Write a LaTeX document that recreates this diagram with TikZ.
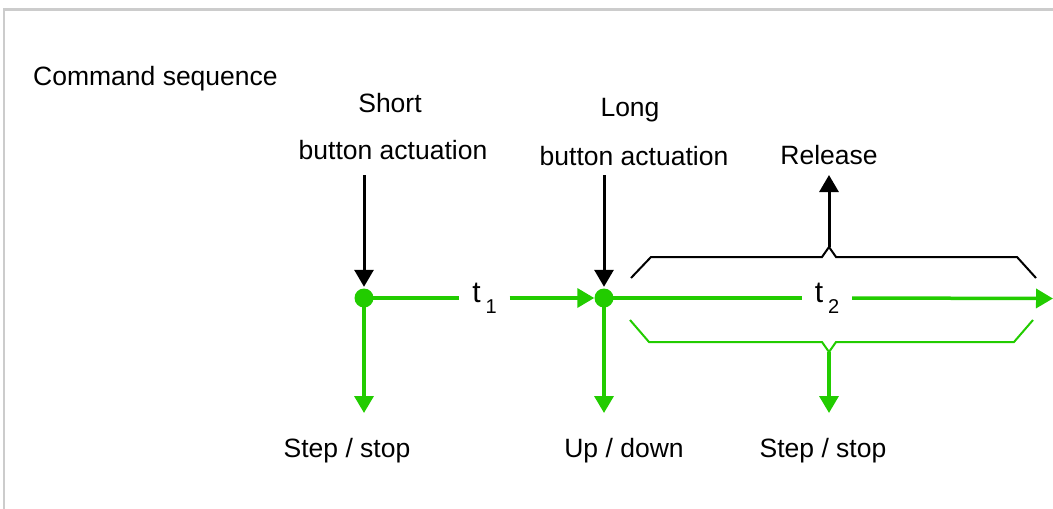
\documentclass[tikz,border=0pt]{standalone}
\usepackage{fontspec}
\setmainfont{Liberation Sans}
\usetikzlibrary{arrows.meta}
\definecolor{gr}{RGB}{34,204,0}
\definecolor{frame}{RGB}{204,204,204}
\tikzset{
  lbl/.style={font=\fontsize{26.5}{30}\selectfont, inner sep=0pt, text=black},
  dot/.style={circle, fill=gr, minimum size=19pt, inner sep=0pt},
  blackarrow/.style={draw=black, line width=3pt, -{Triangle[length=17pt,width=19pt]}},
  garrow/.style={draw=gr, line width=3.5pt, -{Triangle[length=17pt,width=19pt]}},
  gline/.style={draw=gr, line width=3.5pt},
  bline/.style={draw=black, line width=2pt, line join=miter},
  gbline/.style={draw=gr, line width=2pt, line join=miter},
  gap/.style={font=\fontsize{30}{32}\selectfont, inner sep=0pt, minimum width=50pt, minimum height=30pt}
}
\newcommand{\tsub}[1]{t\,\raisebox{-11pt}{\fontsize{20}{22}\selectfont #1}}
\begin{document}
\begin{tikzpicture}[x=1pt,y=-1pt]
\useasboundingbox (0,0) rectangle (1053,509);
% frame
\draw[frame, line width=2.5pt] (4,509) -- (4,9.3) -- (1053,9.3);
% texts
\node[lbl, anchor=west] (cs) at (33,79) {Command sequence};
\node[lbl] (sh1) at (390,103) {Short};
\node[lbl] (sh2) at (393,150) {button actuation};
\node[lbl] (lg1) at (630,110) {Long};
\node[lbl] (lg2) at (634,156) {button actuation};
\node[lbl] (rel) at (829,155) {Release};
\node[lbl] (o1) at (347,451) {Step / stop};
\node[lbl] (o2) at (624,451) {Up / down};
\node[lbl] (o3) at (823,451) {Step / stop};
% dots
\node[dot] (d1) at (364,298) {};
\node[dot] (d2) at (604,298) {};
% timing labels
\node[gap] (t1) at (484.5,298) {\tsub{1}};
\node[gap] (t2) at (827,298) {\tsub{2}};
% coordinates
\coordinate (s1) at (364,175);
\coordinate (s2) at (604,175);
\coordinate (e1) at (364,413);
\coordinate (e2) at (604,413);
\coordinate (e3) at (829,413);
\coordinate (tend) at (1053,298.5);
\coordinate (bp) at (829,247);
\coordinate (rtip) at (829,175);
\coordinate (gp) at (829,352);
% black arrows
\draw[blackarrow] (s1) -- ([yshift=1.5pt]d1.north);
\draw[blackarrow] (s2) -- ([yshift=1.5pt]d2.north);
% green timeline
\draw[gline] (d1.center) -- (t1.west);
\draw[garrow] (t1.east) -- (d2.west);
\draw[gline] (d2.center) -- (t2.west);
\draw[garrow] (t2.east) -- (tend);
% green down arrows
\draw[garrow] (d1.center) -- (e1);
\draw[garrow] (d2.center) -- (e2);
% black bracket
\draw[bline] (631,278) -- (651,257) -- (822,257) -- (bp) -- (836,257) -- (1017,257) -- (1036,278);
\draw[blackarrow] (bp) -- (rtip);
% green bracket
\draw[gbline] (630,320) -- (649,342) -- (822,342) -- (gp) -- (836,342) -- (1014,342) -- (1033,320);
\draw[garrow] (gp) -- (e3);
\end{tikzpicture}
\end{document}
